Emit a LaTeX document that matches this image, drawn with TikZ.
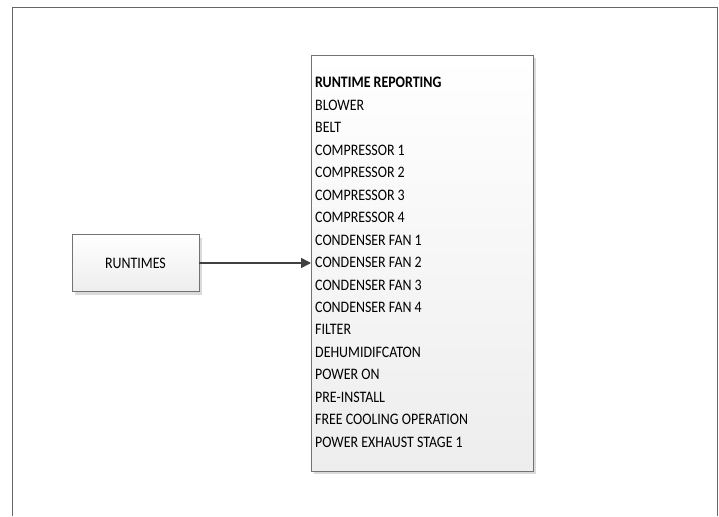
\documentclass[tikz,border=0pt]{standalone}
\usepackage{fontspec}
\setmainfont[FakeStretch=0.87]{Carlito}
\usetikzlibrary{shadows,arrows.meta}
\begin{document}
\begin{tikzpicture}[x=1pt,y=-1pt,
  boxstyle/.style={draw=black!55, line width=0.9pt, top color=white, bottom color=black!7,
    drop shadow={shadow xshift=3pt, shadow yshift=-3pt, fill=black!18, opacity=0.8},
    inner sep=0pt, outer sep=0pt},
  itemtext/.style={font=\fontsize{16}{19}\selectfont, anchor=base west, inner sep=0pt, text=black},
  conn/.style={draw=black!75, line width=1.5pt, -{Triangle[length=10pt,width=10pt]}}]
\useasboundingbox (0,0) rectangle (719,516);
\draw[black!60, line width=1pt] (12,516) -- (12,8) -- (717,8) -- (717,516);
\node[boxstyle, minimum width=127pt, minimum height=57pt] (runt) at (135.5,263) {};
\node[itemtext, anchor=center] (runtlbl) at (runt.center) {RUNTIMES};
\node[boxstyle, minimum width=222pt, minimum height=416pt] (rep) at (422,263) {};
\foreach \t [count=\i] in {BLOWER,BELT,COMPRESSOR 1,COMPRESSOR 2,COMPRESSOR 3,COMPRESSOR 4,
  CONDENSER FAN 1,CONDENSER FAN 2,CONDENSER FAN 3,CONDENSER FAN 4,FILTER,DEHUMIDIFCATON,
  POWER ON,PRE-INSTALL,FREE COOLING OPERATION,POWER EXHAUST STAGE 1}
  \node[itemtext] (l\i) at (315,{88+22.45*\i}) {\t};
\node[itemtext, font=\fontsize{16}{19}\selectfont\bfseries] (title) at (315,88) {RUNTIME REPORTING};
\draw[conn] (runt.east) -- (rep.west);
\end{tikzpicture}
\end{document}
